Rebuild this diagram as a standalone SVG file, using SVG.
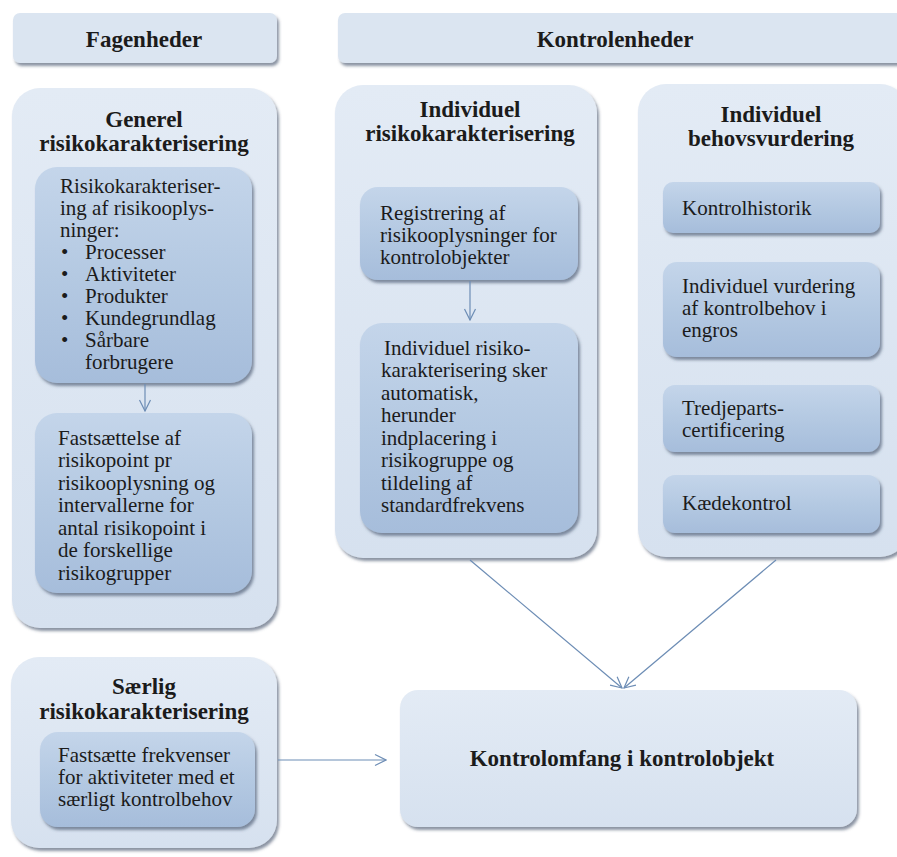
<svg xmlns="http://www.w3.org/2000/svg" width="897" height="857" viewBox="0 0 897 857">
<defs>
<linearGradient id="gOuter" x1="0" y1="0" x2="0" y2="1">
<stop offset="0" stop-color="#e3ebf5"/>
<stop offset="1" stop-color="#d6e1ef"/>
</linearGradient>
<linearGradient id="gInner" x1="0" y1="0" x2="0" y2="1">
<stop offset="0" stop-color="#c4d5ea"/>
<stop offset="0.5" stop-color="#b4c9e2"/>
<stop offset="1" stop-color="#a6bddb"/>
</linearGradient>
<filter id="sh" x="-10%" y="-10%" width="125%" height="130%">
<feDropShadow dx="2" dy="3" stdDeviation="1.6" flood-color="#3e4e66" flood-opacity="0.6"/>
</filter>
<marker id="arr" markerUnits="userSpaceOnUse" markerWidth="14" markerHeight="14" viewBox="0 0 14 14" refX="13" refY="7" orient="auto">
<path d="M2,1.5 L13,7 L2,12.5" fill="none" stroke="#6d8db5" stroke-width="1.2"/>
</marker>
</defs>
<style>
.outer{fill:url(#gOuter);filter:url(#sh);}
.inner{fill:url(#gInner);filter:url(#sh);}
.hdr{fill:#dbe5f1;filter:url(#sh);}
.t{font-family:"Liberation Serif","Times New Roman",serif;font-size:21px;fill:#1b1b1b;}
.b{font-family:"Liberation Serif","Times New Roman",serif;font-size:23px;font-weight:bold;fill:#1b1b1b;text-anchor:middle;}
.c{fill:none;stroke:#6d8db5;stroke-width:1.2;}
</style>
<rect width="897" height="857" fill="#ffffff"/>

<g id="hdr-fagenheder">
<rect class="hdr" x="13" y="13" width="264" height="50" rx="7"/>
<text class="b" x="144" y="47">Fagenheder</text>
</g>
<g id="hdr-kontrolenheder">
<rect class="hdr" x="338" y="13" width="570" height="50" rx="7"/>
<text class="b" x="615" y="47">Kontrolenheder</text>
</g>

<g id="generel">
<rect class="outer" x="12" y="88" width="265" height="540" rx="28"/>
<text class="b" x="144" y="127">Generel</text>
<text class="b" x="144" y="151">risikokarakterisering</text>
</g>
<g id="generel-1">
<rect class="inner" x="35" y="167" width="217" height="216" rx="22"/>
<text class="t" x="60" y="193">Risikokarakteriser-</text>
<text class="t" x="60" y="215">ing af risikooplys-</text>
<text class="t" x="60" y="237">ninger:</text>
<text class="t" x="61" y="259">•</text><text class="t" x="85" y="259">Processer</text>
<text class="t" x="61" y="281">•</text><text class="t" x="85" y="281">Aktiviteter</text>
<text class="t" x="61" y="303">•</text><text class="t" x="85" y="303">Produkter</text>
<text class="t" x="61" y="325">•</text><text class="t" x="85" y="325">Kundegrundlag</text>
<text class="t" x="61" y="347">•</text><text class="t" x="85" y="347">Sårbare</text>
<text class="t" x="85" y="369">forbrugere</text>
</g>
<g id="generel-2">
<rect class="inner" x="35" y="413" width="217" height="180" rx="22"/>
<text class="t" x="58" y="445">Fastsættelse af</text>
<text class="t" x="58" y="467">risikopoint pr</text>
<text class="t" x="58" y="490">risikooplysning og</text>
<text class="t" x="58" y="512">intervallerne for</text>
<text class="t" x="58" y="535">antal risikopoint i</text>
<text class="t" x="58" y="557">de forskellige</text>
<text class="t" x="58" y="580">risikogrupper</text>
</g>

<g id="individuel-risiko">
<rect class="outer" x="335" y="85" width="262" height="473" rx="28"/>
<text class="b" x="470" y="117">Individuel</text>
<text class="b" x="470" y="141">risikokarakterisering</text>
</g>
<g id="registrering">
<rect class="inner" x="360" y="187" width="218" height="93" rx="18"/>
<text class="t" x="380" y="220">Registrering af</text>
<text class="t" x="380" y="242">risikooplysninger for</text>
<text class="t" x="380" y="264">kontrolobjekter</text>
</g>
<g id="automatisk">
<rect class="inner" x="360" y="323" width="218" height="210" rx="22"/>
<text class="t" x="384" y="355">Individuel risiko-</text>
<text class="t" x="381" y="377">karakterisering sker</text>
<text class="t" x="381" y="400">automatisk,</text>
<text class="t" x="381" y="422">herunder</text>
<text class="t" x="381" y="445">indplacering i</text>
<text class="t" x="381" y="467">risikogruppe og</text>
<text class="t" x="381" y="490">tildeling af</text>
<text class="t" x="381" y="512">standardfrekvens</text>
</g>

<g id="behovsvurdering">
<rect class="outer" x="638" y="84" width="270" height="473" rx="28"/>
<text class="b" x="771" y="122">Individuel</text>
<text class="b" x="771" y="146">behovsvurdering</text>
</g>
<g id="kontrolhistorik">
<rect class="inner" x="663" y="182" width="217" height="51" rx="10"/>
<text class="t" x="682" y="215">Kontrolhistorik</text>
</g>
<g id="vurdering">
<rect class="inner" x="663" y="262" width="217" height="95" rx="14"/>
<text class="t" x="682" y="293">Individuel vurdering</text>
<text class="t" x="682" y="315">af kontrolbehov i</text>
<text class="t" x="682" y="337">engros</text>
</g>
<g id="tredjeparts">
<rect class="inner" x="663" y="385" width="217" height="67" rx="12"/>
<text class="t" x="682" y="415">Tredjeparts-</text>
<text class="t" x="682" y="437">certificering</text>
</g>
<g id="kaedekontrol">
<rect class="inner" x="663" y="475" width="217" height="58" rx="12"/>
<text class="t" x="682" y="510">Kædekontrol</text>
</g>

<g id="saerlig">
<rect class="outer" x="11" y="657" width="266" height="191" rx="28"/>
<text class="b" x="144" y="694">Særlig</text>
<text class="b" x="144" y="719">risikokarakterisering</text>
</g>
<g id="saerlig-1">
<rect class="inner" x="40" y="732" width="215" height="95" rx="18"/>
<text class="t" x="58" y="762">Fastsætte frekvenser</text>
<text class="t" x="58" y="784">for aktiviteter med et</text>
<text class="t" x="58" y="806">særligt kontrolbehov</text>
</g>

<g id="kontrolomfang">
<rect class="outer" x="400" y="690" width="457" height="137" rx="18"/>
<text class="b" x="622" y="766">Kontrolomfang i kontrolobjekt</text>
</g>

<g id="connectors">
<line class="c" x1="145" y1="384" x2="145" y2="411" marker-end="url(#arr)"/>
<line class="c" x1="470" y1="281" x2="470" y2="320" marker-end="url(#arr)"/>
<line class="c" x1="470" y1="560" x2="622" y2="688" marker-end="url(#arr)"/>
<line class="c" x1="776" y1="560" x2="624" y2="688" marker-end="url(#arr)"/>
<line class="c" x1="278" y1="760" x2="386" y2="760" marker-end="url(#arr)"/>
</g>
</svg>
